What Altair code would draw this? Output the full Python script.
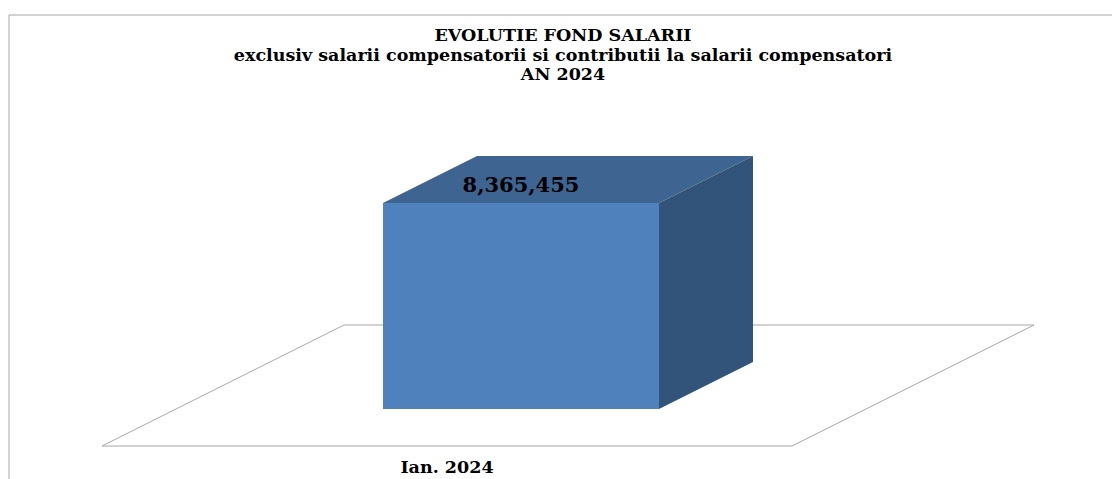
import altair as alt
import pandas as pd

# ---- data ----
categories = ["Ian. 2024"]
values = [8365455]
title_lines = [
    "EVOLUTIE FOND SALARII",
    "exclusiv salarii  compensatorii  si contributii  la salarii compensatori",
    "AN 2024",
]

# ---- layout / style (pixels) ----
W, H = 1104, 471
bar_center_px = 513
bar_w_px = 276
base_px = 401
bar_h_px = 206
depth_x_px, depth_y_px = 94, 47
gap_x_px, gap_y_px = 74, 37
floor_half_px = 345

FRONT = "#4F81BD"
TOP = "#3E6491"
SIDE = "#33547A"
GRID = "#A6A6A6"
FONT = "DejaVu Serif"

V = values[0]
ux = 1.0 / bar_w_px
uy = V / bar_h_px
x_dom = [-bar_center_px * ux, (W - bar_center_px) * ux]
y_dom = [-(H - base_px) * uy, base_px * uy]
xs = alt.Scale(domain=x_dom, nice=False, zero=False)
ys = alt.Scale(domain=y_dom, nice=False, zero=False)

dx = depth_x_px * ux
dy = depth_y_px * uy
gx = gap_x_px * ux
gy = gap_y_px * uy
fh = floor_half_px * ux

idx = list(range(len(categories)))
front_df = pd.DataFrame({
    "cat": categories,
    "x": [i - 0.5 for i in idx],
    "x2": [i + 0.5 for i in idx],
    "y0": [0] * len(values),
    "v": values,
})
top_df = pd.DataFrame({
    "y": [V, V + dy],
    "x": [-0.5, -0.5 + dx],
    "x2": [0.5, 0.5 + dx],
})
side_df = pd.DataFrame({
    "x": [0.5, 0.5 + dx],
    "y": [0, dy],
    "y2": [V, V + dy],
})
floor_df = pd.DataFrame({
    "y": [-gy, dy + gy],
    "x": [-fh - gx, -fh + dx + gx],
    "x2": [fh - gx, fh + dx + gx],
})
lab_df = pd.DataFrame({"x": [0.0], "y": [V], "t": [f"{V:,}"]})
cat_df = pd.DataFrame({"x": [-gx], "y": [-gy], "t": categories})
title_df = pd.DataFrame({"t": ["\n".join(title_lines)]})

X = lambda f: alt.X(f, type="quantitative", scale=xs, axis=None)
Y = lambda f: alt.Y(f, type="quantitative", scale=ys, axis=None)

border = alt.Chart(title_df).mark_rect(filled=False, stroke=GRID, strokeWidth=1).encode(
    x=alt.value(1), x2=alt.value(W + 50), y=alt.value(7), y2=alt.value(H + 50)
)

floor = alt.Chart(floor_df).mark_area(orient="horizontal", fill="white", stroke=GRID, strokeWidth=1).encode(
    y=Y("y"), x=X("x"), x2="x2"
)

front = alt.Chart(front_df).mark_rect(color=FRONT).encode(
    x=X("x"), x2="x2", y=Y("y0"), y2="v"
)

top = alt.Chart(top_df).mark_area(orient="horizontal", color=TOP).encode(
    y=Y("y"), x=X("x"), x2="x2"
)

side = alt.Chart(side_df).mark_area(orient="vertical", color=SIDE).encode(
    x=X("x"), y=Y("y"), y2="y2"
)

label = alt.Chart(lab_df).mark_text(
    font=FONT, fontWeight="bold", fontSize=21, color="black", dy=-17, baseline="middle"
).encode(x=X("x"), y=Y("y"), text="t")

cat_label = alt.Chart(cat_df).mark_text(
    font=FONT, fontWeight="bold", fontSize=17.5, color="black", dy=22, baseline="middle"
).encode(x=X("x"), y=Y("y"), text="t")

title = alt.Chart(title_df).mark_text(
    font=FONT, fontWeight="bold", fontSize=17.5, color="black", lineBreak="\n",
    lineHeight=19.5, baseline="alphabetic", align="center"
).encode(x=alt.value(555), y=alt.value(33), text="t")

chart = alt.layer(border, floor, front, top, side, label, cat_label, title).properties(
    width=W, height=H, autosize=alt.AutoSizeParams(type="none"), padding=0
).configure_view(stroke=None)

chart.save("out.html", embed_options={"renderer": "svg", "actions": False})
